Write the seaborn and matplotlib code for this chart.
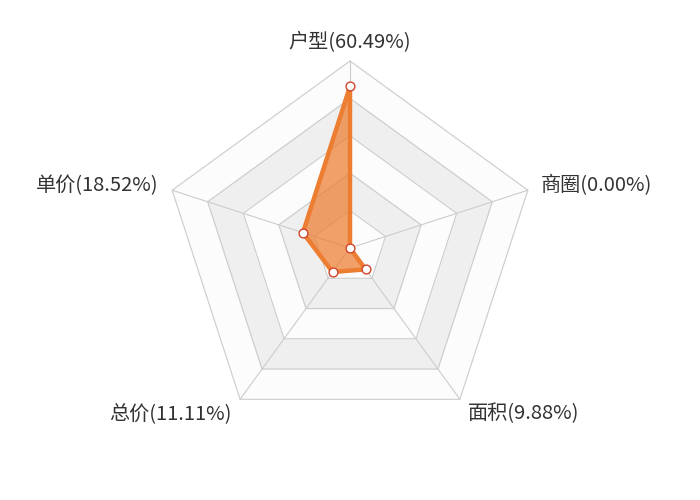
import numpy as np
import pandas as pd
import seaborn as sns
import matplotlib.pyplot as plt

# Radar data
categories = ['户型', '商圈', '面积', '总价', '单价']
values = [60.49, 0.00, 9.88, 11.11, 18.52]
max_value = 70
split_number = 5

sns.set_theme(style='white')
plt.rcParams['font.family'] = ['Noto Sans CJK SC', 'DejaVu Sans']

fig = plt.figure(figsize=(7, 5), dpi=100)
ax = fig.add_axes([0, 0, 1, 1])
px = 187 / max_value  # pixels per unit
ax.set_xlim(-350 / px, 350 / px)
ax.set_ylim(-252 / px, 248 / px)
ax.set_aspect('equal')
ax.axis('off')

n = len(categories)
angles = np.deg2rad(90 - 360 / n * np.arange(n))
ux, uy = np.cos(angles), np.sin(angles)

# split areas, outer to inner, alternating colours
ring_colors = ['#fcfcfc', '#efefef']
for i in range(split_number, 0, -1):
    r = max_value * i / split_number
    ax.fill(ux * r, uy * r, color=ring_colors[(i - 1) % 2], zorder=1)
    ax.plot(np.append(ux, ux[0]) * r, np.append(uy, uy[0]) * r,
            color='#cccccc', lw=0.8, zorder=2)

# spokes
for a, b in zip(ux, uy):
    ax.plot([0, a * max_value], [0, b * max_value], color='#cccccc', lw=0.8, zorder=2)

# axis names
for cat, v, a, b in zip(categories, values, ux, uy):
    gap = 14 / px
    x, y = a * (max_value + gap), b * (max_value + gap)
    if abs(a) < 0.01:
        ha, va = 'center', 'bottom'
        y -= 6 / px
    else:
        ha, va = ('left' if a > 0 else 'right'), 'center'
        if b < 0:
            y -= 3 / px
    ax.text(x, y, f'{cat}({v:.2f}%)', ha=ha, va=va, fontsize=14.5, color='#333333')

# data polygon
vals = np.array(values)
df = pd.DataFrame({'x': np.append(ux * vals, ux[0] * vals[0]),
                   'y': np.append(uy * vals, uy[0] * vals[0])})
ax.fill(df['x'], df['y'], color='#ED7D31', alpha=0.72, lw=0, zorder=3)
sns.lineplot(data=df, x='x', y='y', sort=False, estimator=None, color='#ED7D31',
             linewidth=3.2, solid_joinstyle='round', ax=ax, zorder=4)
sns.scatterplot(data=df.iloc[:-1], x='x', y='y', s=40, color='white',
                edgecolor='#D0452B', linewidth=1, ax=ax, zorder=5)
ax.set_xlabel('')
ax.set_ylabel('')

fig.savefig('out.png', dpi=100)
